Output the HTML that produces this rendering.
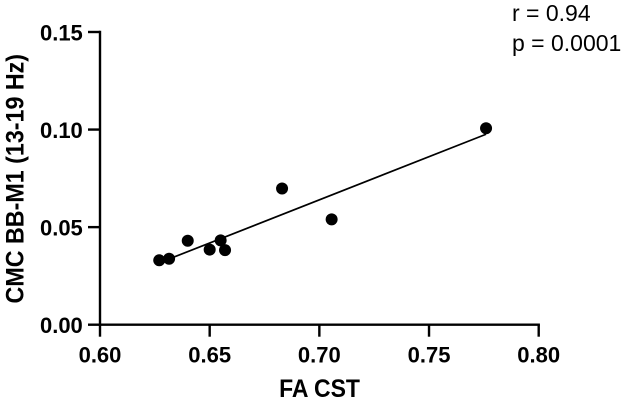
<!DOCTYPE html>
<html>
<head>
<meta charset="utf-8">
<style>
html,body{margin:0;padding:0;background:#fff;width:624px;height:402px;overflow:hidden}
svg{display:block}
text{font-family:"Liberation Sans",Arial,sans-serif;fill:#000}
.tick{font-size:22px;font-weight:bold}
.title{font-size:23px;font-weight:bold}
.note{font-size:23px}
</style>
</head>
<body>
<svg id="chart" width="624" height="402" viewBox="0 0 624 402" xmlns="http://www.w3.org/2000/svg">
<text class="title" transform="translate(319.5 396.8) scale(1 1.07)" text-anchor="middle">FA CST</text>
<text class="title" transform="translate(23.3 178.7) rotate(-90) scale(1.012 1.08)" text-anchor="middle">CMC BB-M1 (13-19 Hz)</text>
<text class="note" x="512" y="21">r = 0.94</text>
<text class="note" x="512" y="51">p = 0.0001</text>
</svg>
<script>
const xTicks = [0.60, 0.65, 0.70, 0.75, 0.80];
const yTicks = [0.00, 0.05, 0.10, 0.15];
const faValues = [0.627, 0.6315, 0.640, 0.650, 0.655, 0.657, 0.683, 0.7056, 0.776];
const cmcValues = [0.033, 0.0338, 0.043, 0.0385, 0.0432, 0.0382, 0.0698, 0.054, 0.1007];
const fitX = [0.627, 0.776];
const fitY = [0.0317, 0.0976];

const svg = document.getElementById('chart');
const NS = 'http://www.w3.org/2000/svg';
const sx = v => 100 + (v - xTicks[0]) / (xTicks[xTicks.length - 1] - xTicks[0]) * 438.7;
const sy = v => 324.7 - (v - yTicks[0]) / (yTicks[yTicks.length - 1] - yTicks[0]) * 292.7;

function line(x1, y1, x2, y2, w) {
  const l = document.createElementNS(NS, 'line');
  l.setAttribute('x1', x1);
  l.setAttribute('y1', y1);
  l.setAttribute('x2', x2);
  l.setAttribute('y2', y2);
  l.setAttribute('stroke', '#000');
  l.setAttribute('stroke-width', w);
  svg.appendChild(l);
  return l;
}
function label(str, x, y, anchor) {
  const t = document.createElementNS(NS, 'text');
  t.setAttribute('class', 'tick');
  t.setAttribute('x', x);
  t.setAttribute('y', y);
  t.setAttribute('text-anchor', anchor);
  t.textContent = str;
  svg.appendChild(t);
  return t;
}

const xAxis = line(sx(xTicks[0]) - 1.2, sy(0), sx(xTicks[xTicks.length - 1]) + 1.2, sy(0), 2.4);


const yAxis = line(sx(xTicks[0]), sy(yTicks[yTicks.length - 1]) - 1.2, sx(xTicks[0]), sy(0) + 1.2, 2.4);



xTicks.forEach(v => {
  const m = line(sx(v), sy(0), sx(v), sy(0) + 12, 2.4);
  
  
  const t = label(v.toFixed(2), sx(v), 362.5, 'middle');
  
  
});
yTicks.forEach(v => {
  const m = line(sx(xTicks[0]) - 12, sy(v), sx(xTicks[0]), sy(v), 2.4);
  
  
  const t = label(v.toFixed(2), 82.8, sy(v) + 8.4, 'end');
  
  
});

const fit = line(sx(fitX[0]), sy(fitY[0]), sx(fitX[1]), sy(fitY[1]), 1.7);



faValues.forEach((v, i) => {
  const c = document.createElementNS(NS, 'circle');
  c.setAttribute('cx', sx(v));
  c.setAttribute('cy', sy(cmcValues[i]));
  c.setAttribute('r', 6);
  c.setAttribute('fill', '#000');
  
  
  svg.appendChild(c);
});
</script>
</body>
</html>
